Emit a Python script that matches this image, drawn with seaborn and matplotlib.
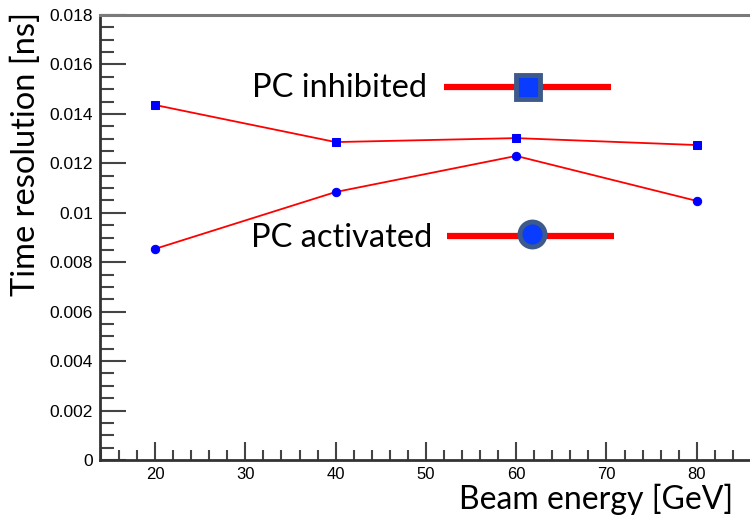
import matplotlib
matplotlib.use("Agg")
import matplotlib.pyplot as plt
import seaborn as sns
import pandas as pd
from matplotlib.ticker import MultipleLocator, FuncFormatter

# ---- data ----
energy = [20, 40, 60, 80]
res_inhibited = [0.01436, 0.01286, 0.01302, 0.01274]
res_activated = [0.00854, 0.01084, 0.01230, 0.01048]
label_inhibited = "PC inhibited"
label_activated = "PC activated"
xlabel = "Beam energy [GeV]"
ylabel = "Time resolution [ns]"

df = pd.DataFrame({
    "energy": energy * 2,
    "res": res_inhibited + res_activated,
    "mode": [label_inhibited] * 4 + [label_activated] * 4,
})

sns.set_style("ticks")
plt.rcParams['font.family'] = ['Liberation Sans', 'DejaVu Sans']
label_font = ['Lato', 'DejaVu Sans']

fig = plt.figure(figsize=(7.5, 5.17), dpi=100)
ax = fig.add_axes([100/750, 57/517, 1 - 100/750, 445/517])

sns.lineplot(data=df[df["mode"] == label_inhibited], x="energy", y="res",
             ax=ax, color="red", lw=1.3, marker="s", markersize=6,
             markerfacecolor="#0000ff", markeredgecolor="#0000ff", legend=False)
sns.lineplot(data=df[df["mode"] == label_activated], x="energy", y="res",
             ax=ax, color="red", lw=1.3, marker="o", markersize=6,
             markerfacecolor="#0000ff", markeredgecolor="#0000ff", legend=False)

# legend-like keys
ax.plot([51.95, 70.5], [0.01509, 0.01509], color="red", lw=4.5, solid_capstyle="butt")
ax.plot([61.3], [0.01509], marker="s", markersize=17, markerfacecolor="#0a3cff",
        markeredgecolor="#3d5a8a", markeredgewidth=3.5)
ax.plot([52.3, 70.8], [0.00908, 0.00908], color="red", lw=4.5, solid_capstyle="butt")
ax.plot([61.7], [0.00915], marker="o", markersize=18, markerfacecolor="#0a3cff",
        markeredgecolor="#3d5a8a", markeredgewidth=3.5)
ax.text(50.11, 0.014683, label_inhibited, ha="right", va="baseline",
        fontsize=23.5, family=label_font, color="black")
ax.text(50.67, 0.008616, label_activated, ha="right", va="baseline",
        fontsize=23.5, family=label_font, color="black")

ax.set_xlim(13.9, 85.9)
ax.set_ylim(0, 0.018)
ax.xaxis.set_major_locator(MultipleLocator(10))
ax.xaxis.set_minor_locator(MultipleLocator(2))
ax.yaxis.set_major_locator(MultipleLocator(0.002))
ax.yaxis.set_minor_locator(MultipleLocator(0.0005))
ax.yaxis.set_major_formatter(FuncFormatter(lambda v, p: "%g" % round(v, 6)))
ax.xaxis.set_major_formatter(FuncFormatter(lambda v, p: "%g" % v))

ax.tick_params(axis="y", which="major", direction="in", length=19, width=1.5,
               color="#444444", labelsize=12.5, pad=5, labelcolor="black")
ax.tick_params(axis="y", which="minor", direction="in", length=10, width=1.5,
               color="#444444")
ax.tick_params(axis="x", which="major", direction="in", length=13, width=1.5,
               color="#444444", labelsize=12, pad=5, labelcolor="black")
ax.tick_params(axis="x", which="minor", direction="in", length=7, width=1.5,
               color="#444444")

ax.set_xlabel("")
ax.set_ylabel("")
ax.spines["right"].set_visible(False)
ax.spines["top"].set_color("#7a7a7a")
ax.spines["top"].set_linewidth(2.2)
ax.spines["left"].set_color("#333333")
ax.spines["left"].set_linewidth(2)
ax.spines["bottom"].set_color("#333333")
ax.spines["bottom"].set_linewidth(2)

fig.text(26/750, 1 - 154/517, ylabel, rotation=90, ha="center", va="center",
         fontsize=23.5, family=label_font, color="black")
fig.text(733/750, 1 - 509/517, xlabel, ha="right", va="baseline",
         fontsize=23, family=label_font, color="black")

fig.savefig("out.png", dpi=100)
